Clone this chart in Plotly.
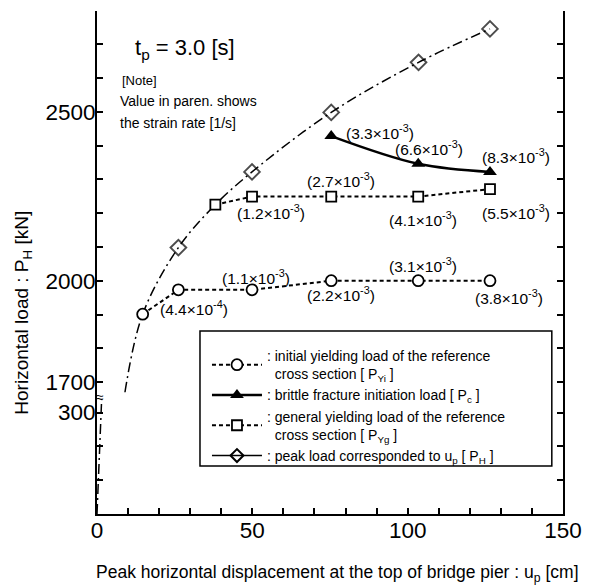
import plotly.graph_objects as go

# ---------------- data ----------------
# peak load curve P_H (dash-dot), upper part of broken axis
peak_x = [9.0, 14.7, 26.2, 38.1, 49.9, 75.4, 103.5, 126.5]
peak_y = [1670, 1901, 2098, 2225, 2322, 2498, 2646, 2745]
peak_marker_size = [0, 0, 12, 0, 12, 12, 12, 12]   # diamonds only where drawn
# peak load curve, lower part of broken axis (origin)
peak_low_x = [0.0, 0.6, 1.5]
peak_low_y = [0, 150, 340]

# initial yielding load P_Yi
yi_x = [14.7, 26.2, 49.9, 75.4, 103.4, 126.5]
yi_y = [1901, 1973, 1973, 2000, 2000, 2000]

# brittle fracture initiation load P_c
pc_x = [75.4, 103.4, 126.5]
pc_y = [2428, 2346, 2322]

# general yielding load P_Yg
yg_x = [38.1, 49.9, 75.4, 103.4, 126.5]
yg_y = [2225, 2249, 2249, 2249, 2271]

# strain-rate labels: text, x, y
rate_text = ["(4.4×10<sup>-4</sup>)", "(1.1×10<sup>-3</sup>)", "(2.2×10<sup>-3</sup>)",
             "(3.1×10<sup>-3</sup>)", "(3.8×10<sup>-3</sup>)",
             "(1.2×10<sup>-3</sup>)", "(2.7×10<sup>-3</sup>)", "(4.1×10<sup>-3</sup>)",
             "(5.5×10<sup>-3</sup>)",
             "(3.3×10<sup>-3</sup>)", "(6.6×10<sup>-3</sup>)", "(8.3×10<sup>-3</sup>)"]
rate_x = [31.1, 51.3, 78.5, 104.8, 132.6, 56.0, 78.5, 104.8, 134.9, 91.1, 106.9, 134.9]
rate_y = [1920, 2012, 1962, 2047, 1953, 2204, 2299, 2183, 2204, 2440, 2392, 2370]

# axis ticks
x_tickvals = list(range(0, 151, 10))
x_ticktext = [str(v) if v % 50 == 0 else "" for v in x_tickvals]
yu_tickvals = list(range(1700, 2800, 100))
yu_ticktext = [str(v) if v in (1700, 2000, 2500) else "" for v in yu_tickvals]
yl_tickvals = [100, 200, 300]
yl_ticktext = ["", "", "300"]

FONT = "Liberation Sans, Arial, Helvetica, sans-serif"
BLACK = "#000000"

fig = go.Figure()

# peak-load curve (drawn, no legend)
fig.add_trace(go.Scatter(x=peak_low_x, y=peak_low_y, xaxis="x", yaxis="y2",
                         mode="lines", line=dict(color=BLACK, width=1.5, dash="10px,4px,2px,4px"),
                         showlegend=False, hoverinfo="skip"))
fig.add_trace(go.Scatter(x=peak_x, y=peak_y, xaxis="x", yaxis="y",
                         mode="lines+markers", line=dict(color=BLACK, width=1.5, shape="spline",
                                                         dash="10px,4px,2px,4px"),
                         marker=dict(symbol="diamond-open", size=peak_marker_size,
                                     color=BLACK, line=dict(width=2, color=BLACK)),
                         showlegend=False))

# initial yielding
fig.add_trace(go.Scatter(x=yi_x, y=yi_y, xaxis="x", yaxis="y", mode="lines+markers",
                         name=": initial yielding load of the reference<br>\u00a0\u00a0cross section [ P<sub>Yi</sub> ]",
                         line=dict(color=BLACK, width=2, dash="4px,3px"),
                         marker=dict(symbol="circle", size=11, color="white",
                                     line=dict(width=1.8, color=BLACK))))
# brittle fracture
fig.add_trace(go.Scatter(x=pc_x, y=pc_y, xaxis="x", yaxis="y", mode="lines+markers",
                         name=": brittle fracture initiation load [ P<sub>c</sub> ]",
                         line=dict(color=BLACK, width=2.5, shape="spline"),
                         marker=dict(symbol="triangle-up", size=12, color=BLACK)))
# general yielding
fig.add_trace(go.Scatter(x=yg_x, y=yg_y, xaxis="x", yaxis="y", mode="lines+markers",
                         name=": general yielding load of the reference<br>\u00a0\u00a0cross section [ P<sub>Yg</sub> ]",
                         line=dict(color=BLACK, width=2, dash="4px,3px"),
                         marker=dict(symbol="square", size=10, color="white",
                                     line=dict(width=1.8, color=BLACK))))
# legend entry for peak load
fig.add_trace(go.Scatter(x=[None], y=[None], xaxis="x", yaxis="y", mode="lines+markers",
                         name=": peak load corresponded to u<sub>p</sub> [ P<sub>H</sub> ]",
                         line=dict(color=BLACK, width=1.5),
                         marker=dict(symbol="diamond-open", size=10, color=BLACK,
                                     line=dict(width=2, color=BLACK))))

annotations = []
for t, xv, yv in zip(rate_text, rate_x, rate_y):
    annotations.append(dict(x=xv, y=yv, xref="x", yref="y", text=t, showarrow=False,
                            xanchor="center", yanchor="middle",
                            font=dict(family=FONT, size=15.5, color=BLACK)))

annotations += [
    dict(x=11.6, y=2686, xref="x", yref="y", xanchor="left", yanchor="middle",
         text="t<sub>p</sub> = 3.0 [s]",
         showarrow=False, font=dict(family=FONT, size=22, color=BLACK)),
    dict(x=7.4, y=2592, xref="x", yref="y", xanchor="left", yanchor="middle", text="[Note]",
         showarrow=False, font=dict(family=FONT, size=13, color=BLACK)),
    dict(x=6.6, y=2533, xref="x", yref="y", xanchor="left", yanchor="middle",
         text="Value in paren. shows",
         showarrow=False, font=dict(family=FONT, size=14, color=BLACK)),
    dict(x=6.6, y=2467, xref="x", yref="y", xanchor="left", yanchor="middle",
         text="the strain rate [1/s]",
         showarrow=False, font=dict(family=FONT, size=14, color=BLACK)),
    dict(x=-0.159, y=0.40, xref="paper", yref="paper", xanchor="center", yanchor="middle",
         text="Horizontal load : P<sub>H</sub> [kN]",
         textangle=-90, showarrow=False, font=dict(family=FONT, size=19, color=BLACK)),
    dict(x=0.516, y=-0.119, xref="paper", yref="paper", xanchor="center", yanchor="middle",
         text="Peak horizontal displacement at the top of bridge pier : u<sub>p</sub> [cm]",
         showarrow=False, font=dict(family=FONT, size=17.5, color=BLACK)),
    dict(x=0.006, y=0.2326, xref="paper", yref="paper", xanchor="center", yanchor="middle",
         text="≈", showarrow=False,
         font=dict(family=FONT, size=14, color=BLACK)),
]

axis_common = dict(showline=True, linecolor=BLACK, linewidth=2, ticks="inside", ticklen=6,
                   tickwidth=1.5, tickcolor=BLACK, showgrid=False, zeroline=False,
                   automargin=False,
                   tickfont=dict(family=FONT, size=22.5, color=BLACK))

fig.update_layout(
    template="none",
    width=584, height=578,
    margin=dict(l=89, r=29, t=3, b=72),
    paper_bgcolor="white", plot_bgcolor="white",
    font=dict(family=FONT, color=BLACK),
    showlegend=True,
    legend=dict(x=0.236, y=0.346, xanchor="left", yanchor="top",
                bgcolor="rgba(0,0,0,0)", borderwidth=0, itemwidth=50,
                font=dict(family=FONT, size=14, color=BLACK), tracegroupgap=0),
    xaxis=dict(axis_common, range=[0, 150], anchor="y2", tickvals=x_tickvals, ticktext=x_ticktext,
               ticklabelstandoff=-5),
    xaxis2=dict(axis_common, range=[0, 150], anchor="y", overlaying="x", side="top",
                tickvals=x_tickvals, showticklabels=False),
    yaxis=dict(axis_common, range=[1650, 2798], domain=[0.2286, 1], anchor="x", mirror="ticks",
               tickvals=yu_tickvals, ticktext=yu_ticktext, ticklabelstandoff=-5),
    yaxis2=dict(axis_common, range=[0, 340], domain=[0, 0.2286], anchor="x", mirror="ticks",
                tickvals=yl_tickvals, ticktext=yl_ticktext, ticklabelstandoff=-5),
    annotations=annotations,
    shapes=[dict(type="rect", xref="paper", yref="paper", x0=0.221, x1=0.976, y0=0.0954, y1=0.364,
                 line=dict(color=BLACK, width=1.5), fillcolor="rgba(0,0,0,0)", layer="above")],
)

fig.write_html("out.html")
